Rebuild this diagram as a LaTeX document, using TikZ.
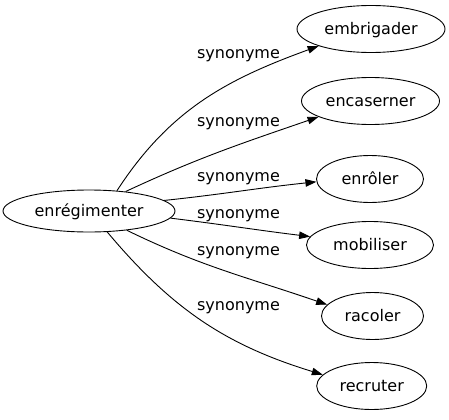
\documentclass[tikz,border=0pt]{standalone}
\usepackage{fontspec}
\setmainfont{DejaVu Sans}
\usetikzlibrary{shapes.geometric,arrows.meta}
\tikzset{
    word/.style={draw, ellipse, line width=0.9bp, inner sep=0pt, text height=13bp, text depth=3bp, minimum height=47bp},
    syn/.style={anchor=base, inner sep=0pt},
    rel/.style={-{Triangle[length=11bp,width=7.5bp]}, line width=0.9bp},
}
\begin{document}
\begin{tikzpicture}[x=1bp, y=1bp, font=\fontsize{16bp}{19bp}\selectfont]
\useasboundingbox (0,0) rectangle (449,419);
\node[word, minimum width=172bp, minimum height=42bp] (src) at (89,208) {enrégimenter};
\foreach \n/\x/\y/\w/\t in {emb/371/390/148/embrigader, enc/370.5/318/138/encaserner,
        enr/370/240/107/enrôler, mob/370/174/127/mobiliser,
        rac/372.5/103/102/racoler, rec/371.7/33/110/recruter} {
    \node[word, minimum width=\w bp] (\n) at (\x,\y) {\t};
};
\foreach \n/\a/\o/\i/\b/\ly in {emb/36/57/200/198/360.7, enc/28/25/199/197/292.3,
        enr/8/6/186/183/238, mob/-5/-7/173/172/200.7,
        rac/-27/-26/161/166/164, rec/-49/-50/163/167/109} {
    \draw[rel] (src.\a) to[out=\o, in=\i] (\n.\b);
    \node[syn] (l\n) at (238.5,\ly) {synonyme};
};
\end{tikzpicture}
\end{document}
